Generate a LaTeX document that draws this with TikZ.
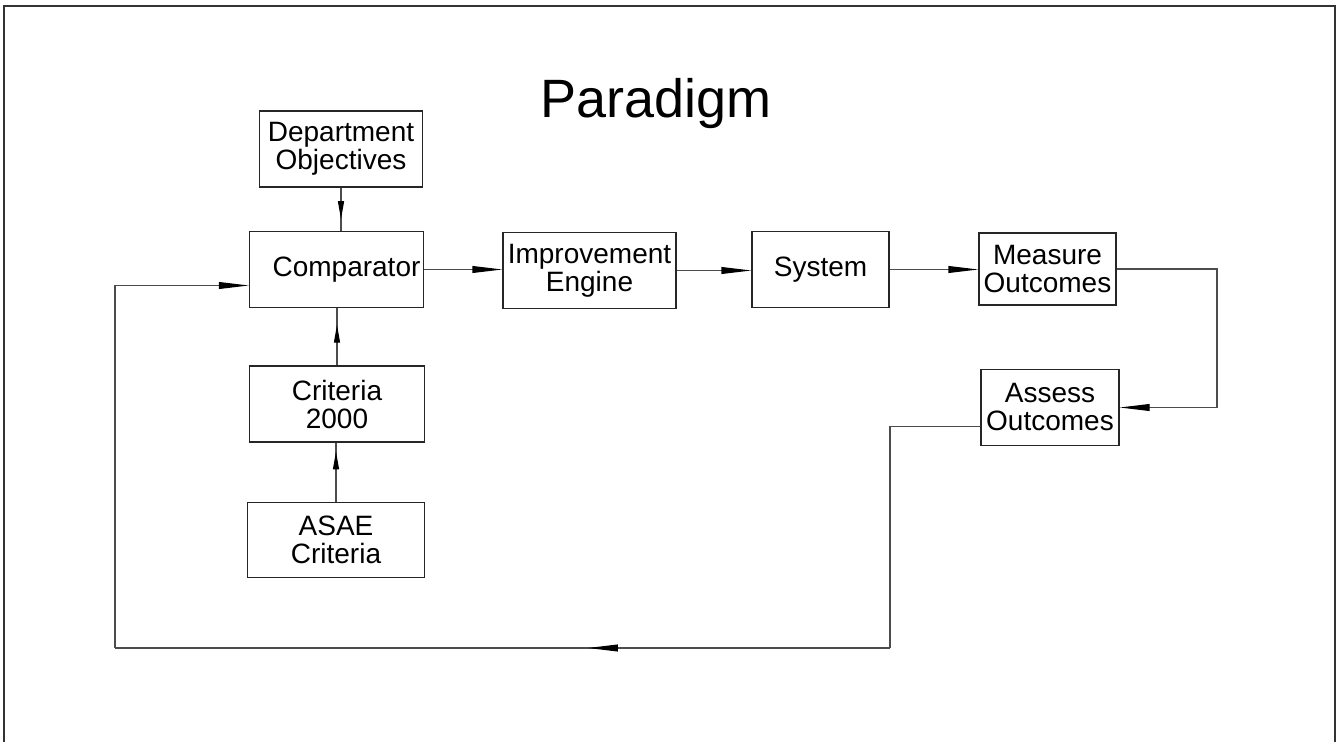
\documentclass[tikz,border=0pt]{standalone}
\usepackage{fontspec}
\setmainfont{Liberation Sans}
\usetikzlibrary{arrows.meta,decorations.markings}

\begin{document}
\begin{tikzpicture}[
  x=0.5pt, y=-0.5pt,
  box/.style={draw=black!85, line width=0.6pt, rectangle, inner sep=0pt, align=center,
    minimum height=38pt, font=\fontsize{14}{14}\selectfont},
  flow/.style={draw=black!70, line width=0.6pt, -{Triangle[length=15pt,width=3.4pt,color=black]}},
  plain/.style={draw=black!70, line width=0.6pt},
  midflow/.style={plain, postaction={decorate}, decoration={markings,
    mark=at position #1 with {\arrow{Triangle[length=9pt,width=3pt,color=black]}}}},
  midflowH/.style={plain, postaction={decorate}, decoration={markings,
    mark=at position #1 with {\arrow{Triangle[length=15pt,width=3.4pt,color=black]}}}},
  titlelabel/.style={font=\fontsize{27}{30}\selectfont}
]
\useasboundingbox (0,0) rectangle (1338,742);

% frame
\draw[black!80, line width=1pt] (4,742) -- (4,6) -- (1335,6) -- (1335,742);

\node[titlelabel] (title) at (656,104) {Paradigm};

% upper row
\node[box, minimum width=81.5pt] (dept) at (341,149) {Department\\Objectives};
\node[box, minimum width=87pt] (comp) at (336.5,269.5) {\hspace{10pt}Comparator};
\node[box, minimum width=86.5pt] (impr) at (589.5,270.5) {Improvement\\Engine};
\node[box, minimum width=68.5pt] (sys) at (820.5,269.5) {System};
\node[box, minimum width=68.5pt, minimum height=36pt] (meas) at (1047.5,269) {Measure\\Outcomes};
\node[box, minimum width=69pt] (assess) at (1050,407.5) {Assess\\Outcomes};

% criteria column
\node[box, minimum width=87.5pt] (crit) at (337,404) {Criteria\\2000};
\node[box, minimum width=88.5pt, minimum height=37.5pt] (asae) at (336,540) {ASAE\\Criteria};

\coordinate (mR) at (1217,269);
\coordinate (fbR) at (890,648);
\coordinate (fbL) at (115,648);

% connectors
\draw[midflow=0.73] (dept.south) -- (dept.south |- comp.north);
\draw[midflow=0.71] (crit.north) -- (crit.north |- comp.south);
\draw[midflow=0.85] (asae.north) -- (asae.north |- crit.south);
\draw[flow] (comp.east) -- (comp.east -| impr.west);
\draw[flow] (impr.east) -- (impr.east -| sys.west);
\draw[flow] (sys.east) -- (sys.east -| meas.west);
\draw[flow] (meas.east) -- (mR) |- (assess.east);
\draw[plain] ([yshift=-9.5pt]assess.west) -| (fbR);
\draw[midflowH=0.39] (fbR) -- (fbL);
\draw[flow] (fbL) |- ([yshift=-8pt]comp.west);

\end{tikzpicture}
\end{document}
